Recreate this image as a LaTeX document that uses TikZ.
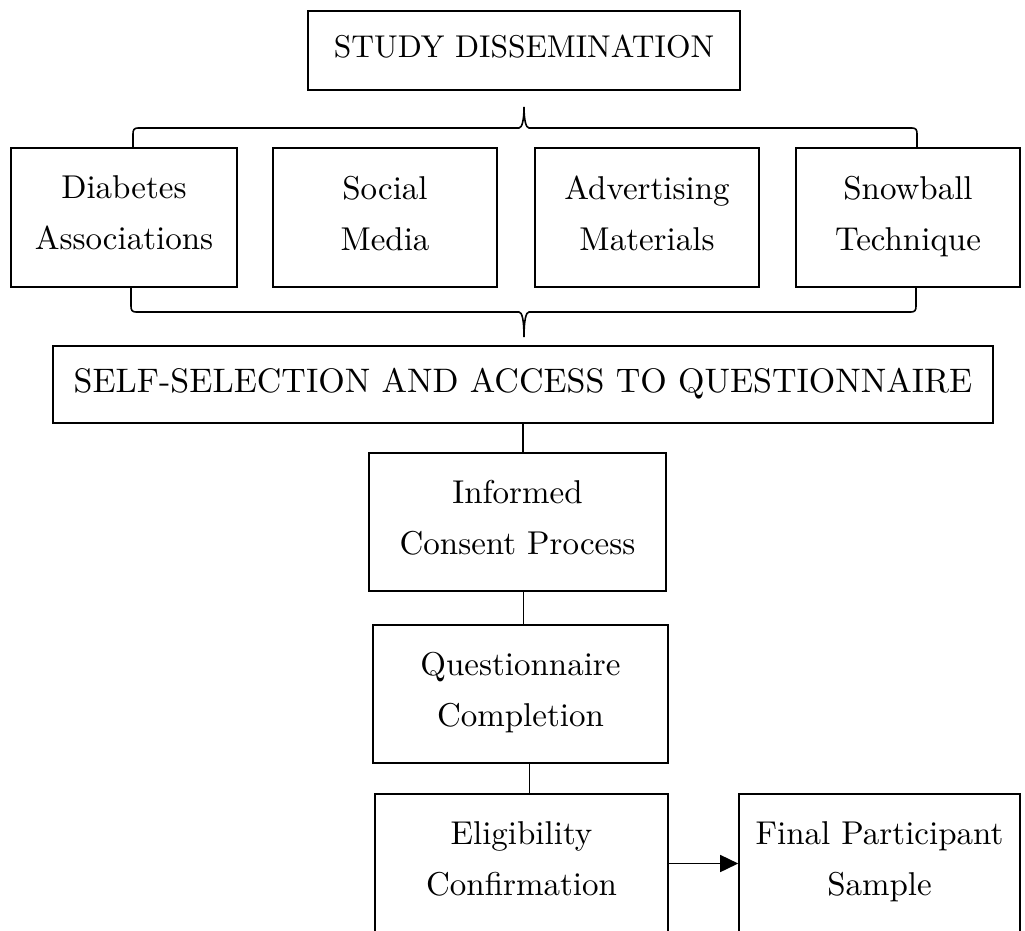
\documentclass[tikz,border=0pt]{standalone}
\usepackage{fontspec}
\setmainfont{lmroman10-regular.otf}
\usetikzlibrary{arrows.meta}

\tikzset{every picture/.style={line width=1.6pt}}
\tikzset{flowbox/.style={draw, align=center, inner sep=0pt, text depth=9pt, font=\fontsize{33}{51}\selectfont}}

\begin{document}
\begin{tikzpicture}[x=1pt,y=1pt,yscale=-1,xscale=1]
		\useasboundingbox (0,0) rectangle (1025,931);
		\clip (0,0) rectangle (1025,931);
		
		%Shape: Rectangle [top]
		\node[flowbox, minimum width=432, minimum height=79, font=\fontsize{31.5}{51}\selectfont] (dissem) at (524,50.5) {STUDY DISSEMINATION};
		
		%Shape: Rectangle [channels]
		\node[flowbox, minimum width=226, minimum height=139] (assoc) at (124,217.5) {Diabetes\\Associations};
		\node[flowbox, minimum width=224, minimum height=139] (social) at (385,217.5) {Social\\Media};
		\node[flowbox, minimum width=224, minimum height=139] (advert) at (647,217.5) {Advertising\\Materials};
		\node[flowbox, minimum width=224, minimum height=139] (snow) at (908,217.5) {Snowball\\Technique};
		
		%Shape: Rectangle [wide]
		\node[flowbox, minimum width=940, minimum height=77, font=\fontsize{34}{51}\selectfont] (access) at (523,384.5) {SELF-SELECTION AND ACCESS TO QUESTIONNAIRE};
		
		%Shape: Rectangle [steps]
		\node[flowbox, minimum width=297, minimum height=138] (consent) at (517.5,522) {Informed\\Consent Process};
		\node[flowbox, minimum width=295, minimum height=138] (complete) at (520.5,694) {Questionnaire\\Completion};
		\node[flowbox, minimum width=293, minimum height=139] (elig) at (521.5,863.5) {Eligibility\\Confirmation};
		\node[flowbox, minimum width=281, minimum height=139] (final) at (879.5,863.5) {Final Participant\\Sample};
		
		%Brace ends
		\coordinate (topl) at (133,148);
		\coordinate (topr) at (917,148);
		\coordinate (toptip) at (524,107);
		\coordinate (botl) at (131,287);
		\coordinate (botr) at (916,287);
		\coordinate (bottip) at (524,337);
		
		%Curve Lines [upper brace]
		\draw (topl) -- ++(0,-14) .. controls +(0,-4) and +(-4,0) .. ++(5,-6) -- (519,128) .. controls (522,128) and (524,120) .. (toptip) .. controls (524,120) and (526,128) .. (529,128) -- (912,128) .. controls +(4,0) and +(0,-4) .. ++(5,6) -- (topr);
		
		%Curve Lines [lower brace]
		\draw (botl) -- ++(0,19) .. controls +(0,4) and +(-4,0) .. ++(5,6) -- (519,312) .. controls (522,312) and (524,320) .. (bottip) .. controls (524,320) and (526,312) .. (529,312) -- (911,312) .. controls +(4,0) and +(0,4) .. ++(5,-6) -- (botr);
		
		%Straight Lines
		\draw (access.south) -- (access.south |- consent.north);
		\draw ([xshift=6pt]consent.south) -- ([xshift=6pt]consent.south |- complete.north);
		\draw ([xshift=9pt]complete.south) -- ([xshift=9pt]complete.south |- elig.north);
		\draw [-{Triangle[length=18pt,width=17pt]}] (elig.east) -- (final.west);
		
\end{tikzpicture}
\end{document}
